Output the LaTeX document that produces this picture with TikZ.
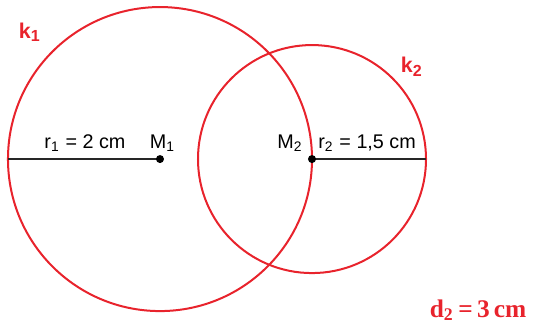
\documentclass[tikz,border=0pt]{standalone}
\usepackage{fontspec}
\setmainfont{Liberation Sans}
\newfontfamily\serifbold{Liberation Serif}
\usepackage{tikz}
\usetikzlibrary{positioning,calc}
\definecolor{circRed}{HTML}{E8232C}

\begin{document}
\begin{tikzpicture}[
    circ/.style={draw=circRed, line width=0.75pt},
    radius line/.style={draw=black!85, line width=0.55pt},
    lbl/.style={font=\fontsize{7.4}{8}\selectfont, inner sep=0pt, anchor=base},
    klbl/.style={font=\fontsize{8}{9}\selectfont\bfseries, text=circRed, inner sep=0pt},
    dot/.style={circle, fill=black, inner sep=0pt, minimum size=3pt}
]
    \useasboundingbox (0,0) rectangle (7.039,4.303);

    \coordinate (M1) at (2.105,2.21);
    \coordinate (M2) at ($(M1)+(2,0)$);
    \coordinate (E1) at ($(M1)+(-2,0)$);
    \coordinate (E2) at ($(M2)+(1.5,0)$);

    \draw[circ] (M1) circle[radius=2];
    \draw[circ] (M2) circle[radius=1.5];

    \draw[radius line] (E1) -- (M1);
    \draw[radius line] (M2) -- (E2);
    \node[dot] (m1) at (M1) {};
    \node[dot] (m2) at (M2) {};

    \node[lbl] (r1) at (1.118,2.355) {r\textsubscript{1} = 2 cm};
    \node[lbl] (m1lbl) at (2.14,2.355) {M\textsubscript{1}};
    \node[lbl] (m2lbl) at (3.816,2.355) {M\textsubscript{2}};
    \node[lbl] (r2) at (4.83,2.355) {r\textsubscript{2} = 1,5 cm};

    \node[klbl] (k1) at (0.395,3.88) {k\textsubscript{1}};
    \node[klbl] (k2) at (5.42,3.42) {k\textsubscript{2}};

    \node[inner sep=0pt, anchor=base, text=circRed, font=\fontsize{9.5}{10}\selectfont\serifbold\bfseries] (d2) at (6.29,0.13) {d\textsubscript{2}\,=\,3\,cm};
\end{tikzpicture}
\end{document}
